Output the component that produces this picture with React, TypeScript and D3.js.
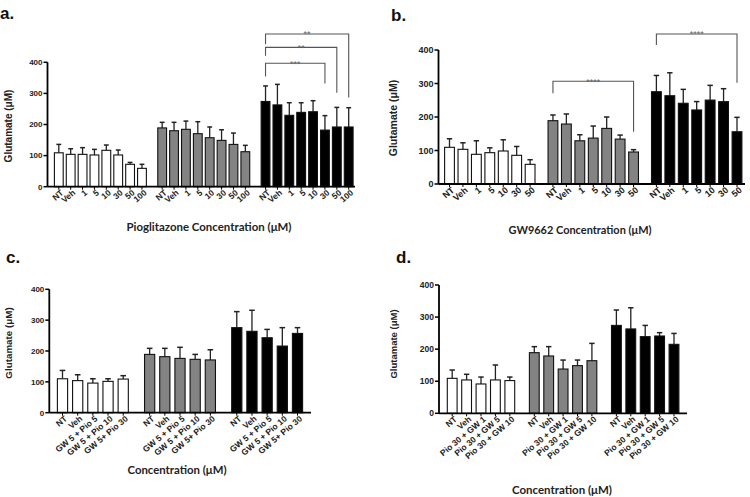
import React from "react";
import * as d3 from "d3";

const groupFills = ["#ffffff", "#838383", "#000000"];
const yTicks = [0, 100, 200, 300, 400];

// Panel a — Pioglitazone
const aCategories = ["NT", "Veh", "1", "5", "10", "30", "50", "100"];
const aMeans = [
  [109, 104, 104, 102, 117, 102, 72, 59],
  [189, 180, 184.5, 170.5, 157.5, 149, 136, 112.5],
  [274, 263, 229.5, 239, 241, 182, 192, 192],
];
const aErrTop = [
  [136, 122, 125.5, 120, 134, 118, 78, 72],
  [207, 207, 211, 209, 192, 183, 172.5, 133],
  [324, 329, 270, 270, 276.5, 228.5, 255, 254],
];
const aBrackets = [
  { group: 2, from: 0, to: 7, level: 491, leftEnd: 458, rightEnd: 287, label: "**" },
  { group: 2, from: 0, to: 6, level: 448, leftEnd: 421, rightEnd: 302, label: "**" },
  { group: 2, from: 0, to: 5, level: 397, leftEnd: 354, rightEnd: 332, label: "***" },
];

// Panel b — GW9662
const bCategories = ["NT", "Veh", "1", "5", "10", "30", "50"];
const bMeans = [
  [109.5, 103.5, 88.6, 93.5, 98.5, 85.6, 58.7],
  [189, 179, 129, 137, 166, 134, 95.5],
  [275.5, 263.5, 241, 221, 250.5, 245.8, 156],
];
const bErrTop = [
  [135, 123, 129, 108, 132, 112, 72.5],
  [206, 209, 147, 173, 200, 146, 102.5],
  [324, 332, 282.5, 246, 294.5, 284.5, 199],
];
const bBrackets = [
  { group: 1, from: 0, to: 6, level: 306.6, leftEnd: 270.7, rightEnd: 156, label: "****" },
  { group: 2, from: 0, to: 6, level: 447.8, leftEnd: 415, rightEnd: 302.4, label: "****" },
];

// Panel c — GW + Pio
const cCategories = ["NT", "Veh", "GW 5 + Pio 5", "GW 5 + Pio 10", "GW 5+ Pio 30"];
const cMeans = [
  [110, 104, 96, 101.6, 109],
  [189, 181.6, 176, 173, 171],
  [275.7, 263.8, 243, 216, 257],
];
const cErrTop = [
  [137, 123, 110, 110, 120],
  [208.6, 208.6, 212, 189, 204],
  [327.6, 332, 270, 275.7, 275.7],
];

// Panel d — Pio + GW
const dCategories = ["NT", "Veh", "Pio 30 + GW 1", "Pio 30 + GW 5", "Pio 30 + GW 10"];
const dMeans = [
  [109, 104, 91.4, 104, 102],
  [189, 178.7, 138, 148.6, 164],
  [274, 263, 239, 241, 215],
];
const dErrTop = [
  [135, 121.6, 113, 150.6, 113],
  [207.8, 207.8, 166, 166, 218],
  [322, 329, 274, 251.4, 249],
];

type Bracket = {
  group: number;
  from: number;
  to: number;
  level: number;
  leftEnd: number;
  rightEnd: number;
  label: string;
};

type PanelProps = {
  letter: string;
  letterX: number;
  letterY: number;
  categories: string[];
  means: number[][];
  errTop: number[][];
  brackets: Bracket[];
  axisX: number;
  xEnd: number;
  y0: number;
  yTop: number;
  firstX: number;
  lastX: number;
  gap: number;
  barW: number;
  tickSize: number;
  catSize: number;
  xTitle: string;
  xTitleX: number;
  xTitleY: number;
  xTitleW: number;
  yTitleX: number;
  yTitleY: number;
  yTitleSize: number;
};

const tickFont = "'Liberation Sans', Arial, sans-serif";
const titleFont = "Lato, 'Open Sans', sans-serif";

function Panel(p: PanelProps) {
  const n = p.categories.length;
  const groups = p.means.length;
  const lastPos = (groups - 1) * (n + p.gap) + (n - 1);
  const x = d3.scaleLinear().domain([0, lastPos]).range([p.firstX, p.lastX]);
  const y = d3.scaleLinear().domain([0, 400]).range([p.y0, p.yTop]);
  const pos = (g: number, i: number) => x(g * (n + p.gap) + i);
  const capW = p.barW * 0.55;

  return (
    <g>
      <text
        x={p.letterX}
        y={p.letterY}
        fontFamily={tickFont}
        fontWeight="bold"
        fontSize={17}
        fill="#111"
      >
        {p.letter}
      </text>
      {/* y title */}
      <text
        transform={`translate(${p.yTitleX},${p.yTitleY}) rotate(-90)`}
        textAnchor="middle"
        fontFamily={tickFont}
        fontWeight="bold"
        fontSize={p.yTitleSize}
        fill="#222"
      >
        Glutamate (μM)
      </text>
      {/* bars */}
      {p.means.map((row, g) =>
        row.map((v, i) => {
          const cx = pos(g, i);
          const top = y(v);
          const et = y(p.errTop[g][i]);
          return (
            <g key={`b${g}-${i}`}>
              <line x1={cx} x2={cx} y1={top} y2={et} stroke="#222" strokeWidth={1.3} />
              <line
                x1={cx - capW / 2}
                x2={cx + capW / 2}
                y1={et}
                y2={et}
                stroke="#222"
                strokeWidth={1.5}
              />
              <rect
                x={cx - p.barW / 2}
                y={top}
                width={p.barW}
                height={p.y0 - top}
                fill={groupFills[g]}
                stroke="#111"
                strokeWidth={1.1}
              />
            </g>
          );
        })
      )}
      {/* y axis */}
      <line x1={p.axisX} x2={p.axisX} y1={p.yTop} y2={p.y0} stroke="#000" strokeWidth={1.8} />
      {yTicks.map((t) => (
        <g key={`yt${t}`}>
          <line x1={p.axisX - 4} x2={p.axisX} y1={y(t)} y2={y(t)} stroke="#000" strokeWidth={1.5} />
          <text
            x={p.axisX - 5}
            y={y(t)}
            dy="0.35em"
            textAnchor="end"
            fontFamily={tickFont}
            fontWeight="bold"
            fontSize={p.tickSize}
            fill="#222"
          >
            {t}
          </text>
        </g>
      ))}
      {/* x axis */}
      <line x1={p.axisX} x2={p.xEnd} y1={p.y0} y2={p.y0} stroke="#000" strokeWidth={1.8} />
      {p.means.map((row, g) =>
        row.map((_, i) => {
          const cx = pos(g, i);
          return (
            <g key={`xt${g}-${i}`}>
              <line x1={cx} x2={cx} y1={p.y0} y2={p.y0 + 3} stroke="#000" strokeWidth={1} />
              <text
                transform={`translate(${cx + 2},${p.y0 + 3}) rotate(-40)`}
                textAnchor="end"
                dy="0.6em"
                fontFamily={tickFont}
                fontWeight="bold"
                fontSize={p.catSize}
                fill="#222"
              >
                {p.categories[i]}
              </text>
            </g>
          );
        })
      )}
      {/* significance brackets */}
      {p.brackets.map((b, k) => {
        const xl = pos(b.group, b.from);
        const xr = pos(b.group, b.to);
        const yl = y(b.level);
        return (
          <g key={`br${k}`}>
            <path
              d={`M${xl},${y(b.leftEnd)}V${yl}H${xr}V${y(b.rightEnd)}`}
              fill="none"
              stroke="#555"
              strokeWidth={1.1}
            />
            <text
              x={(xl + xr) / 2}
              y={yl + 3.5}
              textAnchor="middle"
              fontFamily={tickFont}
              fontSize={9}
              fill="#666"
            >
              {b.label}
            </text>
          </g>
        );
      })}
      {/* x title */}
      <text
        x={p.xTitleX}
        y={p.xTitleY}
        textAnchor="middle"
        fontFamily={titleFont}
        fontWeight="bold"
        fontSize={12}
        textLength={p.xTitleW}
        lengthAdjust="spacingAndGlyphs"
        fill="#222"
      >
        {p.xTitle}
      </text>
    </g>
  );
}

export default function App() {
  return (
    <svg
      width={750}
      height={497}
      style={{ position: "absolute", left: 0, top: 0, background: "#fff" }}
    >
      <rect width={750} height={497} fill="#fff" />
      <Panel
        letter="a."
        letterX={0}
        letterY={19}
        categories={aCategories}
        means={aMeans}
        errTop={aErrTop}
        brackets={aBrackets}
        axisX={47.5}
        xEnd={355}
        y0={186.7}
        yTop={62.3}
        firstX={58.8}
        lastX={348.7}
        gap={0.7}
        barW={8.8}
        tickSize={8}
        catSize={8.5}
        xTitle="Pioglitazone Concentration (μM)"
        xTitleX={209}
        xTitleY={231}
        xTitleW={165}
        yTitleX={12}
        yTitleY={126}
        yTitleSize={10}
      />
      <Panel
        letter="b."
        letterX={391}
        letterY={21}
        categories={bCategories}
        means={bMeans}
        errTop={bErrTop}
        brackets={bBrackets}
        axisX={438.5}
        xEnd={745}
        y0={184}
        yTop={50}
        firstX={449.5}
        lastX={737}
        gap={0.7}
        barW={9.8}
        tickSize={9}
        catSize={9}
        xTitle="GW9662 Concentration (μM)"
        xTitleX={580}
        xTitleY={234}
        xTitleW={143}
        yTitleX={397}
        yTitleY={118}
        yTitleSize={10.5}
      />
      <Panel
        letter="c."
        letterX={6}
        letterY={263}
        categories={cCategories}
        means={cMeans}
        errTop={cErrTop}
        brackets={[]}
        axisX={49.3}
        xEnd={311}
        y0={412.7}
        yTop={289.3}
        firstX={62.5}
        lastX={297.5}
        gap={0.74}
        barW={10.2}
        tickSize={8}
        catSize={8.5}
        xTitle="Concentration (μM)"
        xTitleX={177}
        xTitleY={474}
        xTitleW={99}
        yTitleX={12}
        yTitleY={343}
        yTitleSize={9.8}
      />
      <Panel
        letter="d."
        letterX={396}
        letterY={263}
        categories={dCategories}
        means={dMeans}
        errTop={dErrTop}
        brackets={[]}
        axisX={439}
        xEnd={687}
        y0={413.3}
        yTop={285}
        firstX={452.2}
        lastX={674}
        gap={0.7}
        barW={9.8}
        tickSize={8.5}
        catSize={8.5}
        xTitle="Concentration (μM)"
        xTitleX={562}
        xTitleY={494}
        xTitleW={100}
        yTitleX={397}
        yTitleY={344}
        yTitleSize={9.5}
      />
    </svg>
  );
}
